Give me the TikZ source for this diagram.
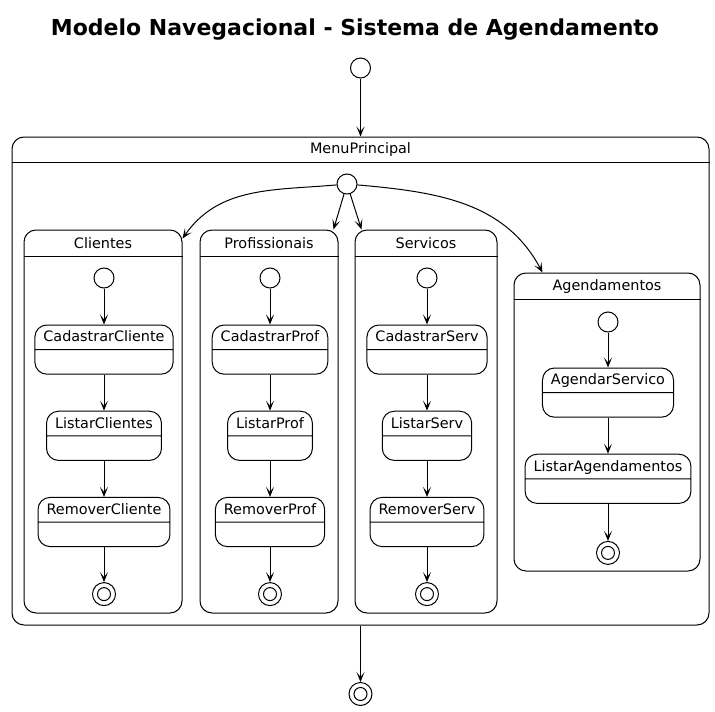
\documentclass[tikz,border=0pt]{standalone}
\usepackage{fontspec}
\setmainfont{DejaVu Sans}
\usetikzlibrary{arrows.meta, positioning, shapes.multipart}

\tikzset{
  start/.style={circle, draw, minimum size=20pt, inner sep=0pt},
  stop/.style={circle, draw, minimum size=23pt, inner sep=0pt,
    path picture={\draw (path picture bounding box.center) circle[radius=6.5pt];}},
  substate/.style={rectangle split, rectangle split parts=2, draw,
    rounded corners=12pt, inner xsep=8.5pt, inner ysep=5.3pt,
    text height=11pt, text depth=2pt,
    rectangle split empty part height=11pt, rectangle split empty part depth=2pt},
  group/.style={draw, rounded corners=12pt, inner sep=0pt},
  arr/.style={-{Stealth[length=10pt, width=8pt, inset=5pt]}},
}

\begin{document}
\begin{tikzpicture}[x=1pt, y=1pt, line width=1pt, font=\fontsize{14.4}{17}\selectfont]
    \fill[white] (0,0) rectangle (715,-712);
    \useasboundingbox (0,0) rectangle (715,-712);

    \node[font=\fontsize{22}{26}\selectfont\bfseries, anchor=base] (title) at (355,-35) {Modelo Navegacional - Sistema de Agendamento};

    % outer state
    \node[start] (ini) at (360.5,-68) {};
    \node[group, minimum width=697pt, minimum height=488pt] (menu) at (360.5,-381) {};
    \node (menuT) at (360.5,-150) {MenuPrincipal};
    \draw ([yshift=-26pt]menu.north west) -- ([yshift=-26pt]menu.north east);
    \node[start] (mi) at (347,-184) {};
    \node[stop] (fim) at (360.5,-694) {};

    % Clientes
    \node[group, minimum width=158pt, minimum height=383pt] (cli) at (103,-421.5) {};
    \node (cliT) at (103,-243.5) {Clientes};
    \draw ([yshift=-27pt]cli.north west) -- ([yshift=-27pt]cli.north east);
    \node[start] (cli0) at (104,-278) {};
    \node[substate, below=36pt of cli0] (cadCli) {CadastrarCliente};
    \node[substate, below=36pt of cadCli] (lisCli) {ListarClientes};
    \node[substate, below=36pt of lisCli] (remCli) {RemoverCliente};
    \node[stop, below=35pt of remCli] (cli1) {};

    % Profissionais
    \node[group, minimum width=138pt, minimum height=383pt] (prof) at (269,-421.5) {};
    \node (profT) at (269,-243.5) {Profissionais};
    \draw ([yshift=-27pt]prof.north west) -- ([yshift=-27pt]prof.north east);
    \node[start] (prof0) at (270,-278) {};
    \node[substate, below=36pt of prof0] (cadProf) {CadastrarProf};
    \node[substate, below=36pt of cadProf] (lisProf) {ListarProf};
    \node[substate, below=36pt of lisProf] (remProf) {RemoverProf};
    \node[stop, below=35pt of remProf] (prof1) {};

    % Servicos
    \node[group, minimum width=142pt, minimum height=383pt] (serv) at (426,-421.5) {};
    \node (servT) at (426,-243.5) {Servicos};
    \draw ([yshift=-27pt]serv.north west) -- ([yshift=-27pt]serv.north east);
    \node[start] (serv0) at (427,-278) {};
    \node[substate, below=36pt of serv0] (cadServ) {CadastrarServ};
    \node[substate, below=36pt of cadServ] (lisServ) {ListarServ};
    \node[substate, below=36pt of lisServ] (remServ) {RemoverServ};
    \node[stop, below=35pt of remServ] (serv1) {};

    % Agendamentos
    \node[group, minimum width=186pt, minimum height=298pt] (agend) at (607,-422) {};
    \node (agendT) at (607,-286.5) {Agendamentos};
    \draw ([yshift=-27pt]agend.north west) -- ([yshift=-27pt]agend.north east);
    \node[start] (agend0) at (608,-322) {};
    \node[substate, below=35pt of agend0] (agServ) {AgendarServico};
    \node[substate, below=36pt of agServ] (lisAg) {ListarAgendamentos};
    \node[stop, below=37pt of lisAg] (agend1) {};

    \draw[arr]
        (ini) edge (menu)
        (menu) edge (fim)
        (cli0) edge (cadCli) (cadCli) edge (lisCli) (lisCli) edge (remCli) (remCli) edge (cli1)
        (prof0) edge (cadProf) (cadProf) edge (lisProf) (lisProf) edge (remProf) (remProf) edge (prof1)
        (serv0) edge (cadServ) (cadServ) edge (lisServ) (lisServ) edge (remServ) (remServ) edge (serv1)
        (agend0) edge (agServ) (agServ) edge (lisAg) (lisAg) edge (agend1);

    % from the inner start into the four groups
    \draw[arr] (mi) to[out=185, in=55] ([yshift=-9pt]cli.north east);
    \draw[arr] (mi) -- ([xshift=-5pt]prof.north east);
    \draw[arr] (mi) -- ([xshift=7pt]serv.north west);
    \draw[arr] (mi) to[out=-5, in=118] ([xshift=29pt]agend.north west);
\end{tikzpicture}
\end{document}
